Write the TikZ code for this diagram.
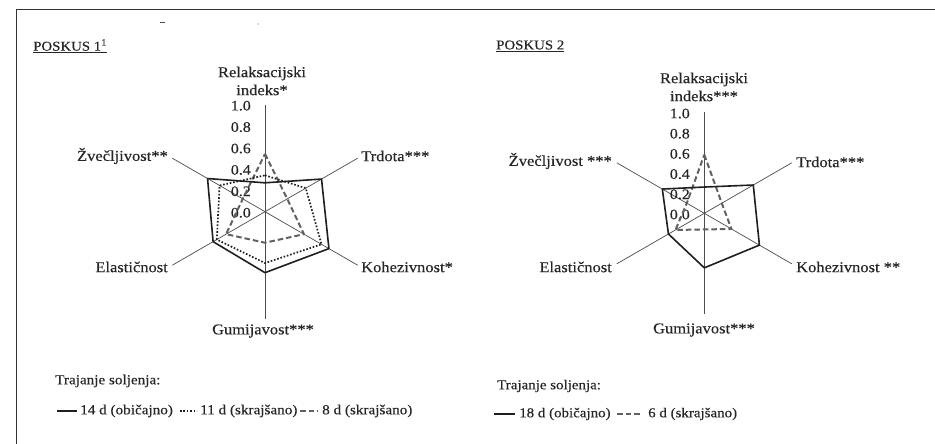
\documentclass[tikz,border=0pt]{standalone}
\usepackage{fontspec}
\setmainfont[FakeStretch=1.1,FakeBold=0.3]{Liberation Serif}
\usetikzlibrary{calc}
\begin{document}
\begin{tikzpicture}[x=1pt,y=1pt,
  frame/.style={draw=black!80, line width=1pt},
  axis/.style={draw=black!70, line width=0.7pt},
  sline/.style={draw=black!88, line width=1.6pt, line join=round},
  dline/.style={draw=black!88, line width=1.7pt, dash pattern=on 1.6pt off 1.8pt},
  gline/.style={draw=black!62, line width=2pt, dash pattern=on 5.5pt off 3pt, line join=round},
  lab/.style={font=\fontsize{15}{18}\selectfont, inner sep=0pt, text=black!85},
  tick/.style={font=\fontsize{14.5}{16}\selectfont, inner sep=0pt, anchor=east, text=black!85},
  head/.style={font=\fontsize{13.5}{16}\selectfont, inner sep=0pt, anchor=west, text=black!85},
  leg/.style={font=\fontsize{13.8}{16}\selectfont, inner sep=0pt, anchor=west, text=black!85},
  legb/.style={font=\fontsize{13.6}{16}\selectfont, inner sep=0pt, anchor=west, text=black!85}
]
\useasboundingbox (0,0) rectangle (935,-444);
\fill[white] (0,0) rectangle (935,-444);
% frame (cropped page)
\draw[frame] (16,-444) -- (16,-10) -- (935,-10);
% cropped remnants of text
\draw[black!70, line width=1pt] (160,-23) -- (165,-23);
\fill[black!60] (258,-24) circle (0.7);

% ================= POSKUS 1 =================
\node[head] (h1) at (33,-46) {\underline{POSKUS 1\textsuperscript{1}}};
\coordinate (c1) at (265,-211.7);
\foreach \a/\n in {90/rel,30/trd,-30/koh,-90/gum,210/ela,150/zve}
  \draw[axis] (c1) -- ++(\a:107) coordinate (c1\n);
\foreach \v/\t [count=\i] in {0/0.0,0.2/0.2,0.4/0.4,0.6/0.6,0.8/0.8,1/1.0}
  \node[tick] (ta\i) at (251,{-212.7+\v*107}) {\t};
\node[lab, align=center] (l1rel) at (262,-81) {Relaksacijski\\indeks*};
\node[lab, anchor=west] (l1trd) at (361,-156) {Trdota***};
\node[lab, anchor=west] (l1koh) at (361,-267) {Kohezivnost*};
\node[lab] (l1gum) at (263,-331) {Gumijavost***};
\node[lab, anchor=east] (l1ela) at (168,-267) {Elastičnost};
\node[lab, anchor=east] (l1zve) at (168,-156) {Žvečljivost**};
\begin{scope}[shift={(265,-211.7)}, x=107pt, y=107pt]
  \draw[gline] (90:.54) -- (30:.24) -- (-30:.42) -- (-90:.29) -- (210:.42) -- (150:.24) -- cycle;
  \draw[dline] (90:.34) -- (30:.44) -- (-30:.61) -- (-90:.48) -- (210:.52) -- (150:.49) -- cycle;
  \draw[sline] (90:.27) -- (30:.61) -- (-30:.69) -- (-90:.57) -- (210:.56) -- (150:.62) -- cycle;
\end{scope}
% legend 1
\node[leg] (t1) at (55,-381) {Trajanje soljenja:};
\coordinate (a1) at (57,-411); \coordinate (a2) at (77,-411);
\draw[sline] (a1) -- (a2);
\node[leg] (e1) at (80,-411) {14 d (običajno)};
\coordinate (b1) at (180,-411); \coordinate (b2) at (197,-411);
\draw[dline] (b1) -- (b2);
\node[leg] (e2) at (200,-411) {11 d (skrajšano)};
\coordinate (d1) at (300,-411); \coordinate (d2) at (318,-411);
\draw[gline] (d1) -- (d2);
\node[leg] (e3) at (322,-411) {8 d (skrajšano)};

% ================= POSKUS 2 =================
\node[head] (h2) at (496,-46) {\underline{POSKUS 2}};
\coordinate (c2) at (704.3,-213.3);
\foreach \a/\n in {90/rel,30/trd,-30/koh,-90/gum,210/ela,150/zve}
  \draw[axis] (c2) -- ++(\a:101) coordinate (c2\n);
\foreach \v/\t [count=\i] in {0/0.0,0.2/0.2,0.4/0.4,0.6/0.6,0.8/0.8,1/1.0}
  \node[tick] (tb\i) at (690,{-214.5+\v*101}) {\t};
\node[lab, align=center] (l2rel) at (704,-87) {Relaksacijski\\indeks***};
\node[lab, anchor=west] (l2trd) at (796,-162) {Trdota***};
\node[lab, anchor=west] (l2koh) at (796,-267) {Kohezivnost **};
\node[lab] (l2gum) at (704,-330) {Gumijavost***};
\node[lab, anchor=east] (l2ela) at (612,-267) {Elastičnost};
\node[lab, anchor=east] (l2zve) at (612,-161) {Žvečljivost ***};
\begin{scope}[shift={(704.3,-213.3)}, x=101pt, y=101pt]
  \draw[gline] (90:.58) -- (30:.20) -- (-30:.31) -- (-90:.16) -- (210:.33) -- (150:.20) -- cycle;
  \draw[sline] (90:.26) -- (30:.56) -- (-30:.63) -- (-90:.54) -- (210:.41) -- (150:.48) -- cycle;
\end{scope}
% legend 2
\node[legb] (t2) at (497,-386) {Trajanje soljenja:};
\coordinate (f1) at (494,-414); \coordinate (f2) at (515,-414);
\draw[sline] (f1) -- (f2);
\node[legb] (g1) at (519,-414) {18 d (običajno)};
\coordinate (k1) at (617,-414); \coordinate (k2) at (641,-414);
\draw[gline] (k1) -- (k2);
\node[legb] (g2) at (648,-414) {6 d (skrajšano)};
\end{tikzpicture}
\end{document}
